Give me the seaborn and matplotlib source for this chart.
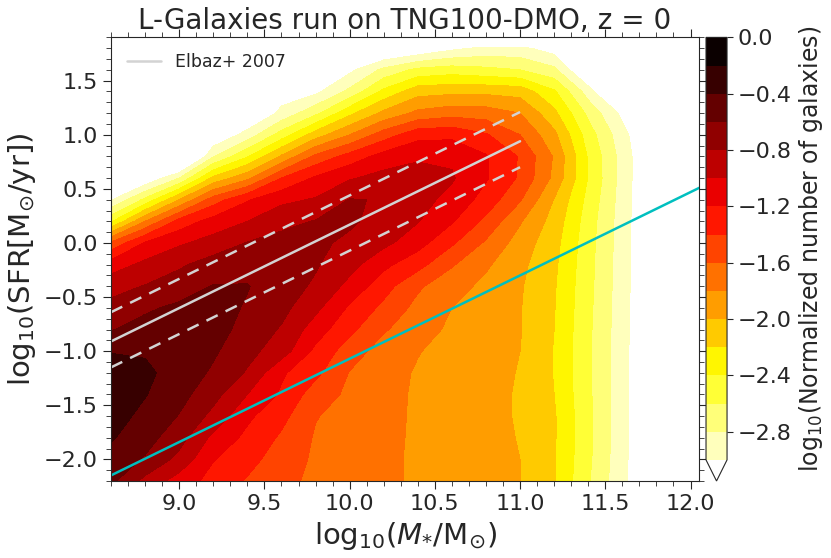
import numpy as np
import matplotlib
matplotlib.use("Agg")
import matplotlib.pyplot as plt
import seaborn as sns
from matplotlib.ticker import MultipleLocator

# bin centres of the 2D histogram
log_mass = [8.6, 8.8, 9.0, 9.2, 9.4, 9.6, 9.8, 10.0, 10.2, 10.4,
            10.6, 10.8, 11.0, 11.2, 11.4, 11.6, 11.8, 12.0]
log_sfr = [-2.2, -2.0, -1.8, -1.6, -1.4, -1.2, -1.0, -0.8, -0.6, -0.4, -0.2,
           0.0, 0.2, 0.4, 0.6, 0.8, 1.0, 1.2, 1.4, 1.6, 1.8, 2.0]

# log10 normalised galaxy counts, one list per mass bin (SFR from low to high)
log_counts = [
    [-0.55, -0.47, -0.38, -0.32, -0.29, -0.31, -0.41, -0.61, -0.74, -0.87, -1.10, -1.56, -2.43, -3.02, -4, -4, -4, -4, -4, -4, -4, -4],
    [-0.86, -0.62, -0.52, -0.45, -0.39, -0.36, -0.42, -0.53, -0.63, -0.79, -0.95, -1.18, -1.80, -2.55, -3.2, -4, -4, -4, -4, -4, -4, -4],
    [-1.09, -0.86, -0.72, -0.61, -0.53, -0.48, -0.46, -0.48, -0.56, -0.70, -0.83, -1.03, -1.32, -2.00, -2.80, -3.6, -4, -4, -4, -4, -4, -4],
    [-1.27, -1.19, -1.05, -0.86, -0.73, -0.63, -0.57, -0.52, -0.52, -0.59, -0.71, -0.92, -1.12, -1.50, -2.15, -2.82, -3.2, -4, -4, -4, -4, -4],
    [-1.42, -1.33, -1.25, -1.16, -1.00, -0.82, -0.74, -0.67, -0.62, -0.59, -0.68, -0.79, -1.00, -1.22, -1.85, -2.42, -2.92, -3.25, -4, -4, -4, -4],
    [-1.55, -1.50, -1.43, -1.34, -1.23, -1.17, -0.90, -0.82, -0.74, -0.71, -0.71, -0.74, -0.85, -1.05, -1.40, -1.97, -2.51, -2.95, -3.1, -4, -4, -4],
    [-1.64, -1.63, -1.62, -1.59, -1.50, -1.35, -1.25, -1.10, -0.95, -0.83, -0.78, -0.76, -0.79, -0.98, -1.17, -1.55, -2.10, -2.65, -3.05, -4, -4, -4],
    [-1.70, -1.70, -1.69, -1.67, -1.64, -1.61, -1.50, -1.35, -1.23, -1.06, -0.93, -0.84, -0.77, -0.79, -1.02, -1.32, -1.80, -2.25, -2.75, -3.05, -4, -4],
    [-1.76, -1.76, -1.75, -1.74, -1.73, -1.72, -1.69, -1.58, -1.45, -1.32, -1.15, -0.95, -0.87, -0.81, -0.93, -1.12, -1.50, -1.95, -2.35, -2.75, -3.3, -4],
    [-1.83, -1.83, -1.83, -1.83, -1.83, -1.82, -1.79, -1.71, -1.66, -1.57, -1.33, -1.12, -0.99, -0.93, -0.94, -1.02, -1.27, -1.75, -2.08, -2.55, -3.2, -4],
    [-1.88, -1.88, -1.88, -1.88, -1.88, -1.88, -1.87, -1.84, -1.80, -1.72, -1.58, -1.37, -1.18, -1.06, -0.98, -1.03, -1.25, -1.68, -2.05, -2.50, -3.05, -4],
    [-1.94, -1.94, -1.94, -1.94, -1.94, -1.94, -1.94, -1.93, -1.90, -1.85, -1.77, -1.63, -1.45, -1.28, -1.18, -1.18, -1.38, -1.70, -2.05, -2.55, -2.95, -4],
    [-2.00, -2.00, -2.01, -2.02, -2.02, -2.01, -2.00, -1.99, -1.99, -1.98, -1.95, -1.89, -1.78, -1.58, -1.43, -1.42, -1.60, -1.80, -2.08, -2.60, -2.95, -4],
    [-2.19, -2.18, -2.18, -2.18, -2.20, -2.21, -2.21, -2.20, -2.19, -2.18, -2.16, -2.13, -2.08, -2.01, -1.85, -1.82, -1.95, -2.15, -2.37, -2.75, -3.1, -4],
    [-2.58, -2.56, -2.55, -2.55, -2.56, -2.57, -2.57, -2.56, -2.55, -2.54, -2.53, -2.52, -2.50, -2.46, -2.41, -2.42, -2.50, -2.65, -2.90, -3.3, -4, -4],
    [-2.95, -2.94, -2.93, -2.93, -2.93, -2.93, -2.93, -2.92, -2.92, -2.91, -2.91, -2.90, -2.90, -2.89, -2.88, -2.88, -2.93, -3.05, -3.5, -4, -4, -4],
    [-3.3, -3.3, -3.3, -3.3, -3.3, -3.3, -3.3, -3.3, -3.3, -3.3, -3.3, -3.3, -3.3, -3.3, -3.3, -3.3, -3.3, -4, -4, -4, -4, -4],
    [-4, -4, -4, -4, -4, -4, -4, -4, -4, -4, -4, -4, -4, -4, -4, -4, -4, -4, -4, -4, -4, -4],
]

# Elbaz+ 2007 main sequence (z=0) and its scatter
elbaz_logm = [8.6, 11.0]
elbaz_mid = [-0.91, 0.94]
elbaz_hi = [-0.64, 1.21]
elbaz_lo = [-1.15, 0.70]

# passive / star-forming division
cut_logm = [8.5, 12.2]
cut_logsfr = [-2.225, 0.624]

levels = np.linspace(-3.0, 0.0, 16)
cbar_ticks = [-2.8, -2.4, -2.0, -1.6, -1.2, -0.8, -0.4, 0.0]

sns.set_style("ticks")
plt.rcParams["font.family"] = ["DejaVu Sans"]
plt.rcParams["mathtext.fontset"] = "dejavusans"

fig = plt.figure(figsize=(8.31, 5.58), dpi=100)
ax = fig.add_axes([0.1336, 0.138, 0.7076, 0.795])
cax = fig.add_axes([0.8496, 0.138, 0.0253, 0.795])

X, Y = np.meshgrid(log_mass, log_sfr)
Z = np.array(log_counts).T
# colours of each band taken at its upper edge
cf = ax.contourf(X, Y, Z, levels=levels, cmap="hot_r", extend="min", vmin=-3.1, vmax=-0.1)

sns.lineplot(x=elbaz_logm, y=elbaz_mid, ax=ax, color="lightgray", lw=1.8, label="Elbaz+ 2007")
sns.lineplot(x=elbaz_logm, y=elbaz_hi, ax=ax, color="lightgray", lw=1.8)
sns.lineplot(x=elbaz_logm, y=elbaz_lo, ax=ax, color="lightgray", lw=1.8)
for ln in ax.lines[1:]:
    ln.set_dashes([5, 3.5])
sns.lineplot(x=cut_logm, y=cut_logsfr, ax=ax, color="c", lw=1.8)

ax.set_xlim(8.6, 12.05)
ax.set_ylim(-2.2, 1.9)
ax.xaxis.set_major_locator(MultipleLocator(0.5))
ax.xaxis.set_minor_locator(MultipleLocator(0.1))
ax.yaxis.set_major_locator(MultipleLocator(0.5))
ax.yaxis.set_minor_locator(MultipleLocator(0.1))
ax.tick_params(which="both", direction="out", top=True, right=True, labelsize=16)
ax.tick_params(which="major", length=6)
ax.tick_params(which="minor", length=3.5)

ax.set_xlabel(r"$\mathrm{log_{10}}(M_{*}/\mathrm{M_{\odot}})$", fontsize=21)
ax.set_ylabel(r"$\mathrm{log_{10}(SFR[M_{\odot}/yr])}$", fontsize=21)
ax.set_title("L-Galaxies run on TNG100-DMO, z = 0", fontsize=20)
ax.legend(loc="upper left", frameon=False, fontsize=12.5)

cbar = fig.colorbar(cf, cax=cax, ticks=cbar_ticks)
cbar.ax.tick_params(labelsize=16, length=4)
cbar.set_label(r"$\mathrm{log_{10}}$(Normalized number of galaxies)", fontsize=17)

fig.savefig("out.png", dpi=100)
